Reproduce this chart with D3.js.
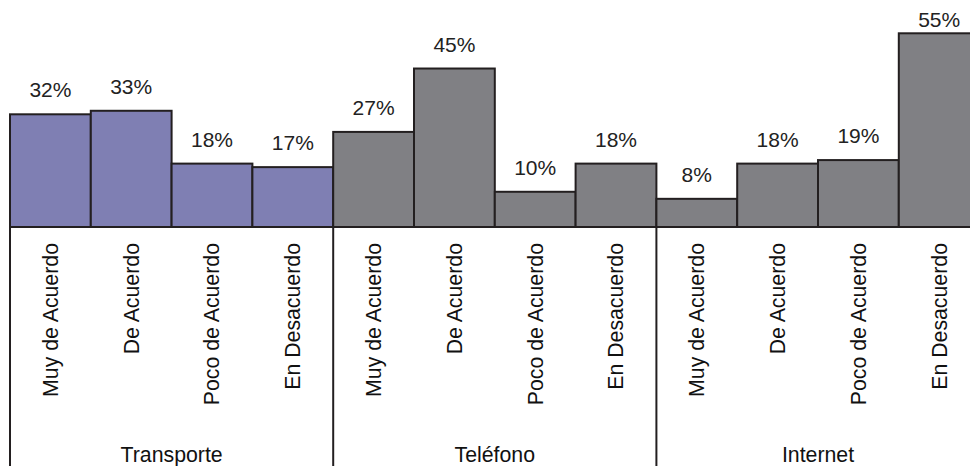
<!DOCTYPE html>
<html>
<head>
<meta charset="utf-8">
<script src="https://cdn.jsdelivr.net/npm/d3@7"></script>
<style>
  body { margin: 0; background: #fff; }
  svg { display: block; font-family: Arial, "Liberation Sans", sans-serif; }
</style>
</head>
<body>
<svg id="chart" width="970" height="466"></svg>
<script>
const groups = ['Transporte', 'Teléfono', 'Internet'];
const categories = ['Muy de Acuerdo', 'De Acuerdo', 'Poco de Acuerdo', 'En Desacuerdo'];
const transporte = [32, 33, 18, 17];
const telefono = [27, 45, 10, 18];
const internet = [8, 18, 19, 55];
const groupColors = ['#7f7fb3', '#808084', '#808084'];

const seriesByGroup = [transporte, telefono, internet];
const rows = [];
groups.forEach((g, gi) => {
  categories.forEach((c, ci) => {
    rows.push({ group: g, gi, cat: c, key: g + '|' + c, value: seriesByGroup[gi][ci] });
  });
});

const left = 10, barW = 80.8, baseY = 227;
const svg = d3.select('#chart');

const x = d3.scaleBand()
  .domain(rows.map(d => d.key))
  .range([left, left + barW * rows.length])
  .padding(0);
const y = d3.scaleLinear().domain([0, 55]).range([baseY, 33.3]);

// bars
svg.append('g').selectAll('rect')
  .data(rows)
  .join('rect')
    .attr('x', d => x(d.key))
    .attr('y', d => y(d.value))
    .attr('width', x.bandwidth())
    .attr('height', d => baseY - y(d.value))
    .attr('fill', d => groupColors[d.gi])
    .attr('stroke', '#231f20')
    .attr('stroke-width', 2);

// value labels
svg.append('g').selectAll('text')
  .data(rows)
  .join('text')
    .attr('x', d => x(d.key) + x.bandwidth() / 2)
    .attr('y', d => Math.max(y(d.value) - 17, 27))
    .attr('text-anchor', 'middle')
    .attr('font-size', 21)
    .attr('fill', '#222')
    .text(d => d.value + '%');

// baseline
svg.append('line')
  .attr('x1', left).attr('x2', left + barW * rows.length)
  .attr('y1', baseY).attr('y2', baseY)
  .attr('stroke', '#231f20').attr('stroke-width', 2);

// group dividers
const groupEdges = groups.map(g => x(g + '|' + categories[0]));
groupEdges.push(left + barW * rows.length);
svg.append('g').selectAll('line')
  .data(groupEdges)
  .join('line')
    .attr('x1', d => d).attr('x2', d => d)
    .attr('y1', baseY).attr('y2', 466)
    .attr('stroke', '#231f20').attr('stroke-width', 2);

// rotated category labels
svg.append('g').selectAll('text')
  .data(rows)
  .join('text')
    .attr('transform', d => `translate(${x(d.key) + x.bandwidth() / 2},243) rotate(-90)`)
    .attr('dy', '0.35em')
    .attr('text-anchor', 'end')
    .attr('font-size', 21.3)
    .attr('fill', '#111')
    .text(d => d.cat);

// group labels
svg.append('g').selectAll('text')
  .data(groups)
  .join('text')
    .attr('x', (g, i) => (groupEdges[i] + groupEdges[i + 1]) / 2)
    .attr('y', 462)
    .attr('text-anchor', 'middle')
    .attr('font-size', 21.3)
    .attr('fill', '#111')
    .text(g => g);
</script>
</body>
</html>
